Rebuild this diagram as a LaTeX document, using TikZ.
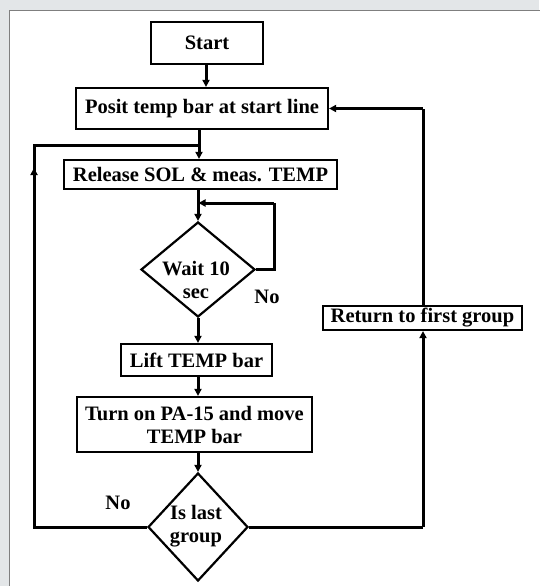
\documentclass[tikz,border=0pt]{standalone}
\usepackage{fontspec}
\setmainfont{Liberation Serif}
\usetikzlibrary{shapes.geometric,arrows.meta}
\definecolor{bggray}{HTML}{E3E6E8}
\definecolor{panelline}{HTML}{7F7F7F}
\begin{document}
\begin{tikzpicture}[x=1pt,y=-1pt,
  every node/.style={font=\fontsize{20.5}{23}\selectfont\bfseries},
  procbox/.style={draw, line width=2.2pt, rectangle, inner sep=0pt, align=center},
  decbox/.style={draw, line width=2.2pt, diamond, inner sep=0pt},
  conn/.style={line width=3pt},
  arr/.style={conn, -{Triangle[length=7pt,width=7pt]}},
  lbl/.style={inner sep=0pt, align=center}]
\useasboundingbox (0,0) rectangle (539,586);
\fill[bggray] (0,0) rectangle (539,586);
\filldraw[fill=white, draw=panelline, line width=1.3pt] (9.5,10.5) rectangle (545,595);

\node[procbox, minimum width=112pt, minimum height=42pt] (start) at (207,43) {Start};
\node[procbox, minimum width=252pt, minimum height=41pt] (posit) at (202,108.5) {Posit temp bar at start line};
\node[procbox, minimum width=273pt, minimum height=29pt] (release) at (200.5,174.5) {Release SOL \& meas. TEMP};
\node[decbox, minimum width=114pt, minimum height=95pt] (wait) at (198,269.5) {};
\node[lbl] (waittxt) at (196,280) {Wait 10\\sec};
\node[procbox, minimum width=151pt, minimum height=32pt] (lift) at (196.5,360) {Lift TEMP bar};
\node[procbox, minimum width=235pt, minimum height=55pt] (turn) at (194.5,424.5) {Turn on PA-15 and move\\TEMP bar};
\node[decbox, minimum width=100pt, minimum height=108pt] (last) at (198,527) {};
\node[lbl] (lasttxt) at (196,526) {Is last\\group};
\node[procbox, minimum width=199pt, minimum height=24pt] (ret) at (422.5,318) {Return to first group};

\node[lbl] (no1) at (267,297) {No};
\node[lbl] (no2) at (118,503) {No};

\coordinate (pbot) at (199,129);
\coordinate (lj) at (199,145);
\coordinate (ltop) at (34,145);
\coordinate (lbot) at (34,527);
\coordinate (lmid) at (34,168);
\coordinate (wr) at (274,269.5);
\coordinate (wt) at (274,203);
\coordinate (wj) at (198,203);
\coordinate (rb) at (423,527);
\coordinate (rt) at (423,108.5);

\draw[arr] (start.south -| 206,0) -- (posit.north -| 206,0);
\draw[arr] (pbot) -- (release.north -| pbot);
\draw[arr] (release.south -| wait.north) -- (wait.north);
\draw[conn] (wait.east) -- (wr) -- (wt);
\draw[arr] (wt) -- ([xshift=0.5pt]wj);
\draw[arr] (wait.south) -- (lift.north -| wait.south);
\draw[arr] (lift.south -| 198,0) -- (turn.north -| 198,0);
\draw[arr] (turn.south -| last.north) -- (last.north);
\draw[conn] (last.west) -- (lbot) -- (ltop) -- (lj);
\draw[arr] (lbot) -- (lmid);
\draw[conn] (last.east) -- (rb);
\draw[arr] (rb) -- (ret.south -| rb);
\draw[conn] (ret.north -| rt) -- (rt);
\draw[arr] (rt) -- (posit.east);
\end{tikzpicture}
\end{document}
